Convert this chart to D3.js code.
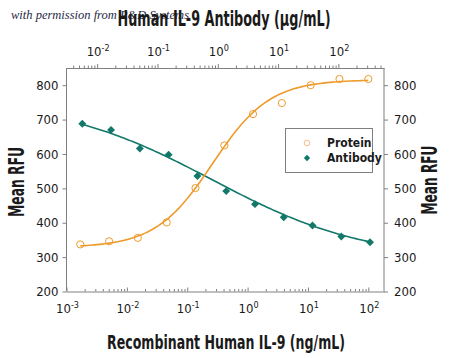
<!DOCTYPE html>
<html><head><meta charset="utf-8">
<script src="https://cdn.jsdelivr.net/npm/d3@7"></script>
<style>
html,body{margin:0;padding:0;background:#fff;}
svg{display:block;}
text{font-family:"Liberation Sans Narrow","DejaVu Sans Condensed","Liberation Sans",sans-serif;}
</style></head>
<body><svg id="chart" width="450" height="358"></svg>
<script>
// ---- data ----
const proteinConc = [0.00169, 0.00508, 0.0152, 0.0457, 0.137, 0.412, 1.23, 3.70, 11.1, 33.3, 100]; // ng/mL
const proteinRFU  = [337, 346, 356, 401, 501, 625, 716, 748, 800, 818, 818];
const antibodyConc = [0.00567, 0.0170, 0.0510, 0.153, 0.460, 1.38, 4.14, 12.4, 37.2, 112, 335]; // µg/mL
const antibodyRFU  = [688, 670, 616, 598, 536, 492, 454, 416, 392, 360, 343];
// 4-parameter logistic fits: [bottom, top, log10 EC50, hill]
const proteinFit  = [328, 816, -0.58, 0.92];
const antibodyFit = [290, 760, -0.093, -0.338];
const yTicks = [200, 300, 400, 500, 600, 700, 800];
const bottomDecades = [-3, -2, -1, 0, 1, 2];
const topDecades = [-2, -1, 0, 1, 2];
const legendLabels = ["Protein", "Antibody"];

const orange = "#EE9B2C", teal = "#12786A", axisCol = "#808080", txt = "#1a1a1a";
const L = 66.5, R = 384, T = 68, B = 291.5;

const svg = d3.select("#chart");
const x = d3.scaleLog().domain([0.001, 182]).range([L, R]);
const xTop = d3.scaleLog().domain([0.0031, 571]).range([L, R]);
const y = d3.scaleLinear().domain([200, 850]).range([B, T]);

function logTicks(scale){
  const [a,b] = scale.domain();
  const out = [];
  for(let e=Math.floor(Math.log10(a)); e<=Math.ceil(Math.log10(b)); e++){
    for(let m=1;m<=9;m++){ const v=m*Math.pow(10,e); if(v>=a*0.999 && v<=b*1.001) out.push(v);} }
  return out;
}
const isMajor = v => Math.abs(Math.log10(v) - Math.round(Math.log10(v))) < 1e-6;

// watermark
svg.append("text").attr("x", 11).attr("y", 19).attr("font-size", 12.5)
  .style("font-family", "'Liberation Serif','DejaVu Serif',serif").style("font-style","italic")
  .attr("fill", "#1f2a45").text("with permission from R&D Systems");

// bottom axis (ticks inward)
const gB = svg.append("g").attr("transform", `translate(0,${B})`)
  .call(d3.axisBottom(x).tickValues(logTicks(x)).tickFormat("").tickSizeOuter(0).tickSizeInner(-3));
gB.selectAll(".tick line").attr("y2", d => isMajor(d) ? -4 : -2.5);
// top axis
const gT = svg.append("g").attr("transform", `translate(0,${T})`)
  .call(d3.axisTop(xTop).tickValues(logTicks(xTop)).tickFormat("").tickSizeOuter(0).tickSizeInner(3));
gT.selectAll(".tick line").attr("y2", d => isMajor(d) ? -4 : -2.5);
// left / right
const gL = svg.append("g").attr("transform", `translate(${L},0)`)
  .call(d3.axisLeft(y).tickValues(yTicks).tickSizeOuter(0).tickSize(4).tickPadding(4));
const gR = svg.append("g").attr("transform", `translate(${R},0)`)
  .call(d3.axisRight(y).tickValues(yTicks).tickSizeOuter(0).tickSize(4).tickPadding(6));
[gB,gT,gL,gR].forEach(g=>{
  g.selectAll("path.domain").attr("stroke", axisCol).attr("stroke-width",1);
  g.selectAll(".tick line").attr("stroke", axisCol);
  g.selectAll("text").attr("font-size", 13).attr("fill", txt);
});
gL.select("path.domain").attr("d", `M0,${T}V${B}`);
gR.select("path.domain").attr("d", `M0,${T}V${B}`);

// superscript decade labels
function powLabel(sel, xv, yv, e){
  const t = sel.append("text").attr("x", xv).attr("y", yv).attr("text-anchor","middle")
    .attr("font-size", 13).attr("fill", txt);
  t.append("tspan").text("10");
  t.append("tspan").attr("dy", -5).attr("font-size", 9).text(String(e));
}
bottomDecades.forEach(e => powLabel(svg, x(Math.pow(10,e)) + 1, 313, e));
topDecades.forEach(e => powLabel(svg, xTop(Math.pow(10,e)) + 1, 56, e));

// titles
svg.append("text").attr("x", 224).attr("y", 26).attr("text-anchor","middle")
  .attr("font-size", 21).attr("font-weight","bold").attr("fill", txt)
  .attr("textLength", 213).attr("lengthAdjust","spacingAndGlyphs")
  .text("Human IL-9 Antibody (µg/mL)");
svg.append("text").attr("x", 226).attr("y", 349).attr("text-anchor","middle")
  .attr("font-size", 20).attr("font-weight","bold").attr("fill", txt)
  .attr("textLength", 238).attr("lengthAdjust","spacingAndGlyphs")
  .text("Recombinant Human IL-9 (ng/mL)");
svg.append("text").attr("transform","translate(24,182) rotate(-90)").attr("text-anchor","middle")
  .attr("font-size", 21).attr("font-weight","bold").attr("fill", txt)
  .attr("textLength", 70).attr("lengthAdjust","spacingAndGlyphs").text("Mean RFU");
svg.append("text").attr("transform","translate(437,180) rotate(-90)").attr("text-anchor","middle")
  .attr("font-size", 21).attr("font-weight","bold").attr("fill", txt)
  .attr("textLength", 69).attr("lengthAdjust","spacingAndGlyphs").text("Mean RFU");

// fitted curves
function fourPL(p, c){ const [bot, top, lec, h] = p; return bot + (top - bot) / (1 + Math.pow(10, (lec - Math.log10(c)) * h)); }
function curvePts(conc, p){
  const lo = Math.log10(conc[0]), hi = Math.log10(conc[conc.length-1]);
  return d3.range(0, 121).map(i => { const c = Math.pow(10, lo + (hi-lo)*i/120); return [c, fourPL(p, c)]; });
}
svg.append("path").datum(curvePts(antibodyConc, antibodyFit))
  .attr("fill","none").attr("stroke", teal).attr("stroke-width", 1.6)
  .attr("d", d3.line().x(d=>xTop(d[0])).y(d=>y(d[1])));
svg.append("path").datum(curvePts(proteinConc, proteinFit))
  .attr("fill","none").attr("stroke", orange).attr("stroke-width", 1.6)
  .attr("d", d3.line().x(d=>x(d[0])).y(d=>y(d[1])));

// markers
const diamond = d3.symbol().type(d3.symbolDiamond2).size(40);
svg.append("g").selectAll("path").data(antibodyConc.map((c,i)=>[c, antibodyRFU[i]])).join("path")
  .attr("d", diamond).attr("transform", d=>`translate(${xTop(d[0])},${y(d[1])})`)
  .attr("fill", teal);
svg.append("g").selectAll("circle").data(proteinConc.map((c,i)=>[c, proteinRFU[i]])).join("circle")
  .attr("cx", d=>x(d[0])).attr("cy", d=>y(d[1])).attr("r", 3.6)
  .attr("fill","none").attr("stroke", orange).attr("stroke-width", 1);

// legend
const lg = svg.append("g");
lg.append("rect").attr("x", 285.5).attr("y", 128.5).attr("width", 87).attr("height", 44)
  .attr("fill","#fff").attr("stroke", axisCol).attr("stroke-width", 1);
lg.append("circle").attr("cx", 307).attr("cy", 143).attr("r", 2.8)
  .attr("fill","none").attr("stroke", "#F2BE86").attr("stroke-width", 1);
lg.append("path").attr("d", d3.symbol().type(d3.symbolDiamond2).size(26))
  .attr("transform","translate(307,158)").attr("fill", teal);
legendLabels.forEach((t,i)=>{
  lg.append("text").attr("x", 327).attr("y", 147 + i*15).attr("font-size", 12)
    .attr("font-weight","bold").attr("fill", txt).text(t);
});
</script></body></html>
